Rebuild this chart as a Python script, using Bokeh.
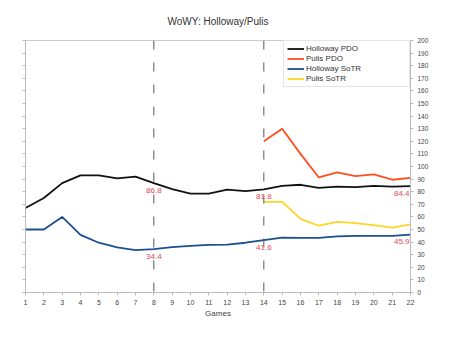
from bokeh.plotting import figure
from bokeh.models import LinearAxis, Range1d, FixedTicker, Legend, LegendItem, Span, Label
from bokeh.embed import file_html
from bokeh.resources import INLINE

games = list(range(1, 23))
holloway_pdo = [67.1, 75.0, 86.8, 93.0, 93.0, 90.5, 92.0, 86.8, 82.0, 78.5, 78.5, 81.6,
                80.5, 81.8, 84.7, 85.5, 83.0, 84.0, 83.7, 84.7, 84.0, 84.4]
holloway_sotr = [50.0, 50.0, 60.0, 45.7, 39.5, 35.8, 33.7, 34.4, 36.0, 37.0, 37.8, 38.0,
                 39.5, 41.6, 43.5, 43.3, 43.3, 44.5, 45.0, 45.0, 45.0, 45.9]
pulis_games = list(range(14, 23))
pulis_pdo = [120.0, 130.0, 110.0, 91.3, 95.4, 92.4, 93.8, 89.5, 91.0]
pulis_sotr = [72.0, 72.0, 58.5, 53.0, 56.0, 55.0, 53.5, 51.5, 54.0]
marker_games = [8, 14, 22]
y_ticks = list(range(0, 201, 10))

FONT = "Liberation Sans"

p = figure(width=455, height=340, output_backend="svg", toolbar_location=None,
           x_range=Range1d(1, 22), y_range=Range1d(0, 200),
           y_axis_location="right", title="WoWY: Holloway/Pulis",
           min_border_left=25, min_border_right=45, min_border_top=39, min_border_bottom=48)
p.outline_line_color = "#cccccc"
p.xgrid.visible = False
p.ygrid.visible = False

p.title.align = "center"
p.title.text_font = FONT
p.title.text_font_size = "10px"
p.title.text_font_style = "normal"
p.title.text_color = "#333333"
p.title.standoff = 27

axis_color = "#bbbbbb"
for ax in p.xaxis:
    ax.ticker = FixedTicker(ticks=games)
    ax.axis_label = "Games"
    ax.axis_label_text_font = FONT
    ax.axis_label_text_font_size = "8px"
    ax.axis_label_text_font_style = "normal"
    ax.axis_label_text_color = "#444444"
    ax.axis_label_standoff = 1
    ax.major_label_text_font = FONT
    ax.major_label_text_font_size = "7px"
    ax.major_label_text_color = "#444444"
    ax.major_label_standoff = 4
    ax.axis_line_color = axis_color
    ax.major_tick_line_color = axis_color
    ax.major_tick_out = 3
    ax.major_tick_in = 0
    ax.minor_tick_line_color = None

for ax in p.yaxis:
    ax.ticker = FixedTicker(ticks=y_ticks)
    ax.major_label_text_font = FONT
    ax.major_label_text_font_size = "6.5px"
    ax.major_label_text_color = "#444444"
    ax.major_label_standoff = 4
    ax.axis_line_color = axis_color
    ax.major_tick_line_color = axis_color
    ax.major_tick_out = 3
    ax.major_tick_in = 0
    ax.minor_tick_line_color = None

left = LinearAxis(ticker=FixedTicker(ticks=y_ticks), major_label_text_color=None,
                  axis_line_color=axis_color, major_tick_line_color=axis_color,
                  major_tick_out=3, major_tick_in=0, minor_tick_line_color=None,
                  major_label_standoff=0)
p.add_layout(left, "left")

for g in marker_games[:2]:
    p.add_layout(Span(location=g, dimension="height", line_color="#555555",
                      line_width=1, line_dash="9 13"))

r1 = p.line(games, holloway_pdo, line_color="#111111", line_width=1.8)
r2 = p.line(pulis_games, pulis_pdo, line_color="#ff4e1f", line_width=1.8)
r3 = p.line(games, holloway_sotr, line_color="#1c4f91", line_width=1.8)
r4 = p.line(pulis_games, pulis_sotr, line_color="#ffd426", line_width=1.8)

legend = Legend(items=[LegendItem(label="Holloway PDO", renderers=[r1]),
                       LegendItem(label="Pulis PDO", renderers=[r2]),
                       LegendItem(label="Holloway SoTR", renderers=[r3]),
                       LegendItem(label="Pulis SoTR", renderers=[r4])],
                location="top_right")
legend.label_text_font = FONT
legend.label_text_font_size = "8px"
legend.label_text_color = "#333333"
legend.label_height = 9
legend.glyph_height = 9
legend.glyph_width = 17
legend.label_width = 100
legend.spacing = 1
legend.padding = 3
legend.margin = 0
legend.label_standoff = 2
legend.border_line_color = "#cccccc"
legend.background_fill_alpha = 1
p.add_layout(legend)

last_game = games[-1]
for g in marker_games:
    for series in (holloway_pdo, holloway_sotr):
        v = series[games.index(g)]
        align = "right" if g == last_game else "center"
        p.add_layout(Label(x=g, y=v, text=f"{v:.1f}", text_font=FONT, text_font_size="8px",
                           text_color="#e0475a", text_align=align, text_baseline="middle",
                           y_offset=-7, x_offset=-1 if g == last_game else 0))

open("out.html", "w").write(file_html(p, INLINE))
